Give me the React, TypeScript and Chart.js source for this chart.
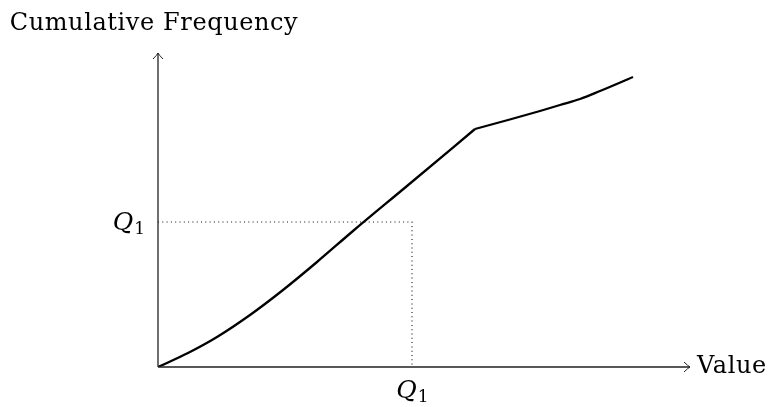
import React, { useEffect, useRef } from "react";
import { Chart, registerables } from "chart.js";

Chart.register(...registerables);

// Curve data (value, cumulative frequency): lower part up to the kink, upper part after it
const valueLow = [0, 30, 59, 92, 125, 159, 195, 249, 317];
const freqLow = [0, 14, 30, 52, 77, 105, 136, 181, 238];
const valueHigh = [317, 350, 382, 402, 422, 442, 475];
const freqHigh = [238, 247, 256, 262, 268, 276, 290];

// Quartile marker
const q1Value = [254];
const q1Freq = [145];

// Axis extents (arrow tips)
const axisMax = [532, 314];

// Texts
const yTitle = ["Cumulative Frequency"];
const xTitle = ["Value"];
const qLabel = ["Q", "1"];

const FONT = "'DejaVu Serif', 'Liberation Serif', serif";

export default function App() {
  const ref = useRef<HTMLCanvasElement | null>(null);

  useEffect(() => {
    document.body.style.margin = "0";
    const canvas = ref.current;
    if (!canvas) return;

    const drawQ = (ctx: CanvasRenderingContext2D, x: number, y: number, align: "right" | "center") => {
      ctx.save();
      ctx.fillStyle = "#000";
      ctx.textBaseline = "alphabetic";
      ctx.font = `italic 25px ${FONT}`;
      const wQ = ctx.measureText(qLabel[0]).width;
      ctx.font = `17px ${FONT}`;
      const w1 = ctx.measureText(qLabel[1]).width;
      const total = wQ + w1;
      const left = align === "right" ? x - total : x - total / 2;
      ctx.textAlign = "left";
      ctx.font = `italic 25px ${FONT}`;
      ctx.fillText(qLabel[0], left, y);
      ctx.font = `17px ${FONT}`;
      ctx.fillText(qLabel[1], left + wQ + 1, y + 4);
      ctx.restore();
    };

    const axesPlugin = {
      id: "axesPlugin",
      afterDatasetsDraw(chart: any) {
        const ctx: any = chart.ctx;
        const xs = chart.scales.x;
        const ys = chart.scales.y;
        const ox = xs.getPixelForValue(0);
        const oy = ys.getPixelForValue(0);
        const xEnd = xs.getPixelForValue(axisMax[0]);
        const yEnd = ys.getPixelForValue(axisMax[1]);
        ctx.save();
        ctx.strokeStyle = "#222";
        ctx.lineWidth = 1.3;
        ctx.beginPath();
        ctx.moveTo(ox, oy);
        ctx.lineTo(xEnd, oy);
        ctx.moveTo(ox, oy);
        ctx.lineTo(ox, yEnd);
        ctx.stroke();
        // arrowheads
        ctx.lineWidth = 1;
        ctx.beginPath();
        ctx.moveTo(xEnd - 6, oy - 5);
        ctx.quadraticCurveTo(xEnd - 2, oy - 1, xEnd, oy);
        ctx.quadraticCurveTo(xEnd - 2, oy + 1, xEnd - 6, oy + 5);
        ctx.moveTo(ox - 5, yEnd + 6);
        ctx.quadraticCurveTo(ox - 1, yEnd + 2, ox, yEnd);
        ctx.quadraticCurveTo(ox + 1, yEnd + 2, ox + 5, yEnd + 6);
        ctx.stroke();

        // titles
        ctx.fillStyle = "#000";
        ctx.font = `24px ${FONT}`;
        ctx.letterSpacing = "0.6px";
        ctx.textAlign = "center";
        ctx.textBaseline = "alphabetic";
        ctx.fillText(yTitle[0], ox - 4, yEnd - 23);
        ctx.textAlign = "left";
        ctx.textBaseline = "middle";
        ctx.fillText(xTitle[0], xEnd + 7, oy);
        ctx.letterSpacing = "0px";

        // Q1 labels
        const qx = xs.getPixelForValue(q1Value[0]);
        const qy = ys.getPixelForValue(q1Freq[0]);
        drawQ(ctx, ox - 14, qy + 8, "right");
        drawQ(ctx, qx, oy + 31, "center");
        ctx.restore();
      },
    };

    const curveStyle = {
      showLine: true,
      borderColor: "#000",
      borderWidth: 2.3,
      pointRadius: 0,
      cubicInterpolationMode: "monotone" as const,
    };

    const chart = new Chart(canvas, {
      type: "scatter",
      data: {
        datasets: [
          { ...curveStyle, data: valueLow.map((x, i) => ({ x, y: freqLow[i] })) },
          { ...curveStyle, data: valueHigh.map((x, i) => ({ x, y: freqHigh[i] })) },
          {
            data: [
              { x: 0, y: q1Freq[0] },
              { x: q1Value[0], y: q1Freq[0] },
              { x: q1Value[0], y: 0 },
            ],
            showLine: true,
            borderColor: "#111",
            borderWidth: 1.1,
            borderDash: [1, 3.3],
            pointRadius: 0,
            tension: 0,
          },
        ],
      },
      options: {
        animation: false,
        responsive: false,
        maintainAspectRatio: false,
        layout: { padding: { left: 158, top: 53, right: 83, bottom: 40 } },
        plugins: { legend: { display: false }, tooltip: { enabled: false } },
        scales: {
          x: { type: "linear", min: 0, max: axisMax[0], display: false },
          y: { type: "linear", min: 0, max: axisMax[1], display: false },
        },
      },
      plugins: [axesPlugin],
    });
    return () => chart.destroy();
  }, []);

  return (
    <div style={{ width: 773, height: 407, background: "#fff" }}>
      <canvas ref={ref} width={773} height={407} style={{ display: "block" }} />
    </div>
  );
}
